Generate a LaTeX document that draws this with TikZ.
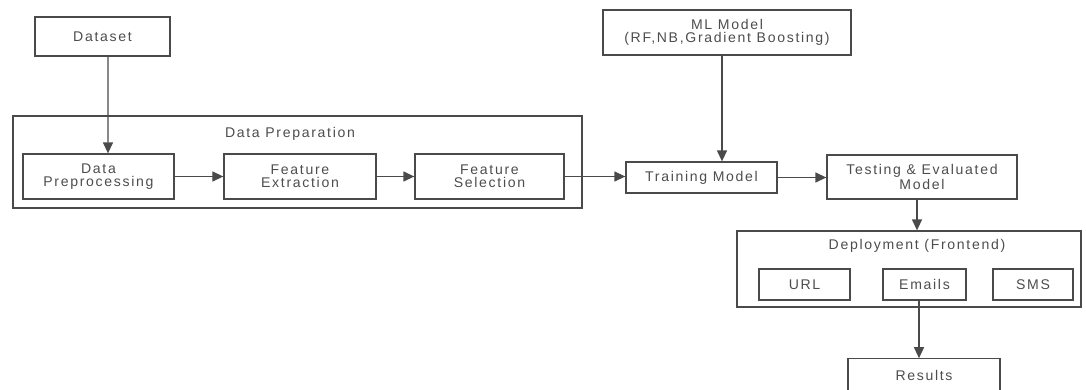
\documentclass[tikz,border=0pt]{standalone}
\usepackage{fontspec}
\setmainfont{Liberation Sans}[LetterSpace=12]
\usetikzlibrary{arrows.meta}
\definecolor{ln}{HTML}{4A4A4A}
\definecolor{tx}{HTML}{4D4D4D}
\tikzset{
  box/.style={draw=ln, line width=1.1pt, inner sep=0pt, align=center, text=tx,
    font=\fontsize{12}{11}\selectfont},
  grp/.style={draw=ln, line width=1.1pt, inner sep=0pt},
  lbl/.style={text=tx, inner sep=0pt, font=\fontsize{12}{11}\selectfont},
  conn/.style={draw=ln, line width=1.1pt, -{Triangle[length=0.33cm,width=0.3cm]}}
}
\begin{document}
\begin{tikzpicture}[x=0.03cm,y=-0.03cm]
\useasboundingbox (0,0) rectangle (1086,389);
\clip (0,0) rectangle (1086,389);
% groups
\node[grp, minimum width=17.07cm, minimum height=2.76cm] (dataprep) at (297.5,162) {};
\node[lbl] (dplabel) at (290,134) {Data Preparation};
\node[grp, minimum width=10.32cm, minimum height=2.28cm] (deploy) at (909,269) {};
\node[lbl] (deplabel) at (917,246) {Deployment (Frontend)};
% boxes
\node[box, minimum width=4.05cm, minimum height=1.17cm] (dataset) at (102.5,36.5) {Dataset};
\node[box, minimum width=4.53cm, minimum height=1.35cm] (prep) at (98.5,176.5) {Data\\Preprocessing};
\node[box, minimum width=4.56cm, minimum height=1.35cm] (fext) at (300,176.5) {Feature\\Extraction};
\node[box, minimum width=4.47cm, minimum height=1.35cm] (fsel) at (489.5,176.5) {Feature\\Selection};
\node[box, minimum width=4.53cm, minimum height=0.93cm] (train) at (701.5,177.5) {Training Model};
\node[box, minimum width=7.44cm, minimum height=1.35cm] (ml) at (727,32.5) {ML Model\\(RF,NB,Gradient Boosting)};
\node[box, minimum width=5.7cm, minimum height=1.32cm] (test) at (922,177) {Testing \& Evaluated\\Model};
\node[box, minimum width=2.73cm, minimum height=0.93cm] (url) at (804.5,284.5) {URL};
\node[box, minimum width=2.49cm, minimum height=0.93cm] (emails) at (924.5,284.5) {Emails};
\node[box, minimum width=2.4cm, minimum height=0.93cm] (sms) at (1033,284.5) {SMS};
\node[box, minimum width=4.56cm, minimum height=1.0cm] (results) at (924,375.5) {Results};
% connectors
\draw[conn] ([xshift=0.165cm]dataset.south) -- ([xshift=0.285cm]prep.north);
\draw[conn] (prep.east) -- (fext.west);
\draw[conn] (fext.east) -- (fsel.west);
\draw[conn] (fsel.east) -- (fsel.east -| train.west);
\draw[conn] (train.east) -- (train.east -| test.west);
\draw[conn] ([xshift=-0.15cm]ml.south) -- ([xshift=-0.15cm]ml.south |- train.north);
\draw[conn] ([xshift=-0.15cm]test.south) -- ([xshift=-0.15cm]test.south |- deploy.north);
\draw[conn] ([xshift=-0.165cm]emails.south) -- ([xshift=-0.165cm]emails.south |- results.north);
\end{tikzpicture}
\end{document}
